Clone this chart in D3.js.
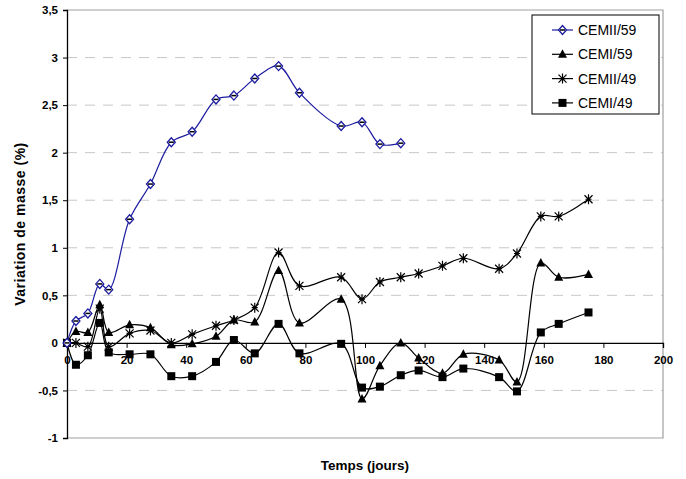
<!DOCTYPE html>
<html>
<head>
<meta charset="utf-8">
<script src="https://cdn.jsdelivr.net/npm/d3@7"></script>
<style>
    body { margin: 0; background: #fff; }
    text { font-family: Arial, "Liberation Sans", sans-serif; }
</style>
</head>
<body>
<div id="chart"></div>
<script>
// jours de mesure
var days = [0, 3, 7, 11, 14, 21, 28, 35, 42, 50, 56, 63, 71, 78, 92, 99, 105, 112,
    118, 126, 133, 145, 151, 159, 165, 175];

var cemii59 = [0, 0.23, 0.31, 0.62, 0.56, 1.30, 1.67, 2.11, 2.22, 2.56, 2.60, 2.78, 2.91, 2.63,
    2.28, 2.32, 2.09, 2.10];
var cemi59 = [0, 0.12, 0.11, 0.40, 0.11, 0.19, 0.16, -0.02, -0.01, 0.07, 0.24, 0.22, 0.76, 0.21,
    0.46, -0.59, -0.24, 0.0, -0.16, -0.32, -0.12, -0.18, -0.41, 0.84, 0.69, 0.72];
var cemii49 = [0, 0.0, -0.04, 0.36, -0.04, 0.10, 0.13, 0.0, 0.09, 0.18, 0.24, 0.37, 0.95, 0.60,
    0.69, 0.46, 0.64, 0.69, 0.73, 0.81, 0.89, 0.78, 0.94, 1.33, 1.33, 1.51];
var cemi49 = [0, -0.23, -0.13, 0.21, -0.10, -0.12, -0.12, -0.35, -0.35, -0.20, 0.03, -0.11, 0.20, -0.11,
    -0.01, -0.47, -0.46, -0.34, -0.29, -0.36, -0.27, -0.36, -0.51, 0.11, 0.20, 0.32];

var seriesNames = ["CEMII/59", "CEMI/59", "CEMII/49", "CEMI/49"];
var xTicks = [0, 20, 40, 60, 80, 100, 120, 140, 160, 180, 200];
var yTicks = [-1, -0.5, 0, 0.5, 1, 1.5, 2, 2.5, 3, 3.5];

var width = 686, height = 479;
var margin = { left: 67, right: 23, top: 10, bottom: 41 };

var svg = d3.select("#chart").append("svg")
    .attr("width", width)
    .attr("height", height);

var x = d3.scaleLinear().domain([0, 200]).range([margin.left, width - margin.right]);
var y = d3.scaleLinear().domain([-1, 3.5]).range([height - margin.bottom, margin.top]);

var fmt = function (d) { return String(d).replace(".", ","); };

// gridlines
svg.append("g")
    .selectAll("line")
    .data(yTicks.filter(function (d) { return d !== 0 && d !== -1 && d !== 3.5; }))
    .enter().append("line")
    .attr("x1", x(0)).attr("x2", x(200))
    .attr("y1", function (d) { return y(d); })
    .attr("y2", function (d) { return y(d); })
    .attr("stroke", "#c8c8c8")
    .attr("stroke-width", 1)
    .attr("stroke-dasharray", "10,8");

// frame (top, right, bottom)
svg.append("path")
    .attr("d", "M" + x(0) + "," + y(3.5) + "H" + x(200) + "V" + y(-1) + "H" + x(0))
    .attr("fill", "none")
    .attr("stroke", "#a0a0a0")
    .attr("stroke-width", 1.2);

// y axis
var yAxis = svg.append("g")
    .attr("transform", "translate(" + x(0) + ",0)")
    .call(d3.axisLeft(y).tickValues(yTicks).tickFormat(fmt).tickSize(4).tickPadding(5));
yAxis.select(".domain").attr("stroke", "#000").attr("stroke-width", 1.3);
yAxis.selectAll("text").attr("font-size", "11.5px").attr("font-weight", "bold")
    .attr("font-family", "Arial, 'Liberation Sans', sans-serif").attr("fill", "#000");

// x axis on y=0
var xAxis = svg.append("g")
    .attr("transform", "translate(0," + y(0) + ")")
    .call(d3.axisBottom(x).tickValues(xTicks).tickSize(5).tickPadding(8));
xAxis.select(".domain").attr("stroke", "#000").attr("stroke-width", 1.3);
xAxis.selectAll("text").attr("font-size", "11.5px").attr("font-weight", "bold")
    .attr("font-family", "Arial, 'Liberation Sans', sans-serif").attr("fill", "#000");

// axis titles
svg.append("text")
    .attr("x", x(100)).attr("y", 470)
    .attr("text-anchor", "middle")
    .attr("font-size", "13.5px").attr("font-weight", "bold")
    .text("Temps (jours)");

svg.append("text")
    .attr("transform", "translate(25," + y(1.25) + ") rotate(-90)")
    .attr("text-anchor", "middle")
    .attr("font-size", "14px").attr("font-weight", "bold")
    .attr("letter-spacing", "0.5px")
    .text("Variation de masse (%)");

// series
var series = [
    { name: seriesNames[0], values: cemii59, color: "#1c1ca0", marker: "diamond" },
    { name: seriesNames[1], values: cemi59, color: "#000", marker: "triangle" },
    { name: seriesNames[2], values: cemii49, color: "#000", marker: "star" },
    { name: seriesNames[3], values: cemi49, color: "#000", marker: "square" }
];

var line = d3.line()
    .x(function (d) { return x(d[0]); })
    .y(function (d) { return y(d[1]); })
    .curve(d3.curveCatmullRom.alpha(0.5));

function drawMarker(g, type, color) {
    if (type === "diamond") {
        g.append("path").attr("d", "M0,-4.5L4,0L0,4.5L-4,0Z")
            .attr("fill", "#fff").attr("stroke", color).attr("stroke-width", 1.3);
        g.append("line").attr("x1", -2.5).attr("x2", 2.5)
            .attr("stroke", "#000").attr("stroke-width", 1.5);
    } else if (type === "triangle") {
        g.append("path").attr("d", "M0,-5L4.5,3.5L-4.5,3.5Z").attr("fill", color);
    } else if (type === "square") {
        g.append("rect").attr("x", -4).attr("y", -4).attr("width", 8).attr("height", 8).attr("fill", color);
    } else if (type === "star") {
        g.append("path").attr("d", "M-4,-4L4,4M-4,4L4,-4M0,-5V5M-3,0H3")
            .attr("stroke", color).attr("stroke-width", 1.2).attr("fill", "none");
    }
}

// draw in reverse so the blue series stays on top
series.slice().reverse().forEach(function (s) {
    var pts = s.values.map(function (v, i) { return [days[i], v]; });
    svg.append("path")
        .datum(pts)
        .attr("d", line)
        .attr("fill", "none")
        .attr("stroke", s.color)
        .attr("stroke-width", 1.2);

    svg.append("g").selectAll("g")
        .data(pts)
        .enter().append("g")
        .attr("transform", function (d) { return "translate(" + x(d[0]) + "," + y(d[1]) + ")"; })
        .each(function () { drawMarker(d3.select(this), s.marker, s.color); });
});

// legend
var legend = svg.append("g").attr("transform", "translate(532,15)");
legend.append("rect")
    .attr("width", 127).attr("height", 99)
    .attr("fill", "#fff").attr("stroke", "#000").attr("stroke-width", 1);

series.forEach(function (s, i) {
    var gy = 15 + i * 24.3;
    legend.append("line")
        .attr("x1", 20).attr("x2", 41)
        .attr("y1", gy).attr("y2", gy)
        .attr("stroke", s.color).attr("stroke-width", 1.2);
    var m = legend.append("g").attr("transform", "translate(30.5," + gy + ")");
    drawMarker(m, s.marker, s.color);
    legend.append("text")
        .attr("x", 46).attr("y", gy + 5)
        .attr("font-size", "14px")
        .text(s.name);
});
</script>
</body>
</html>
